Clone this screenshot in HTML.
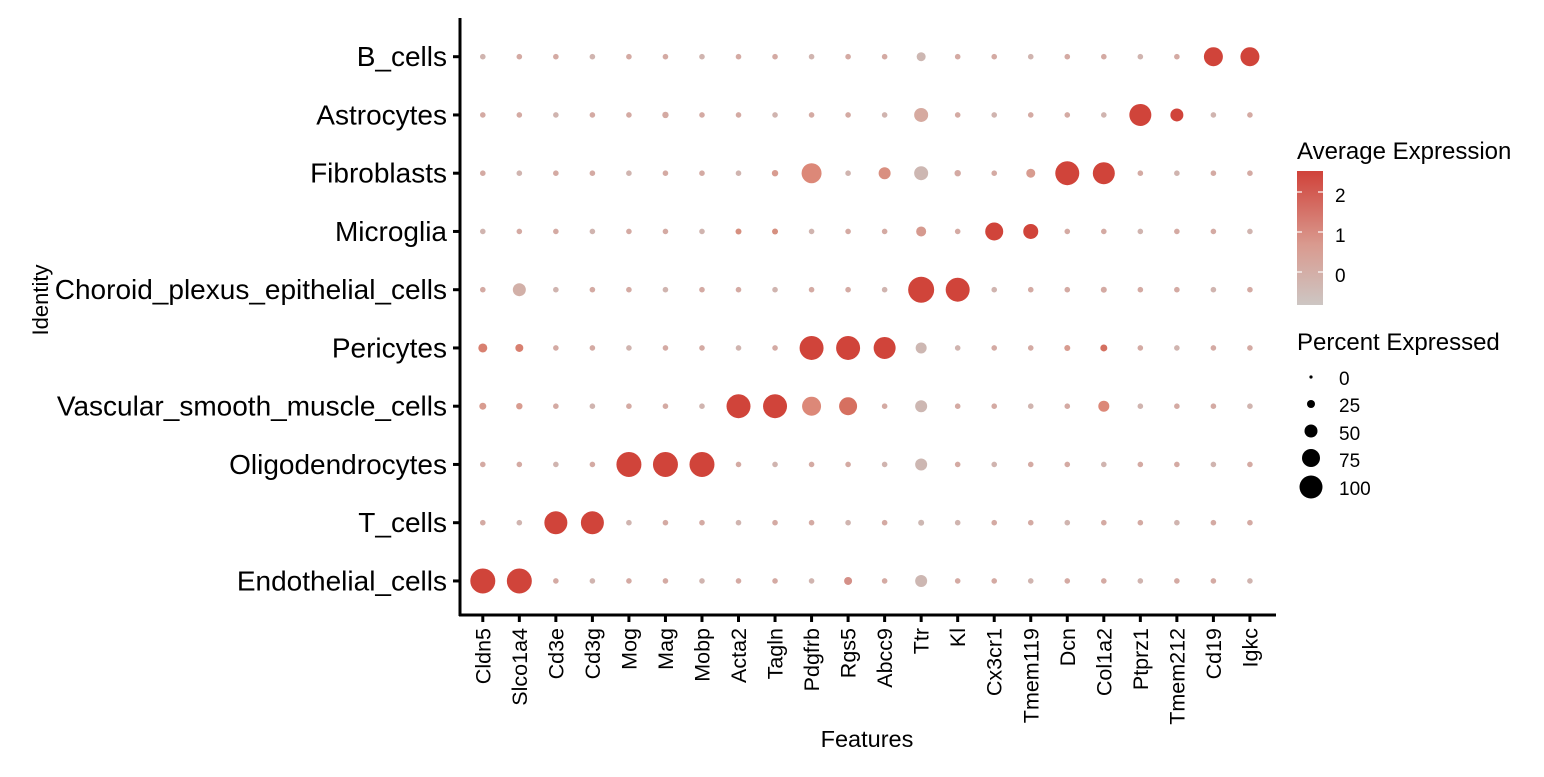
<!DOCTYPE html>
<html><head><meta charset="utf-8"><style>
body{margin:0;background:#fff;}
svg text{font-family:"Liberation Sans",Arial,sans-serif;fill:#000;}
</style></head><body>
<svg id="s" width="1544" height="772" viewBox="0 0 1544 772" xmlns="http://www.w3.org/2000/svg">
<defs><linearGradient id="g" x1="0" y1="1" x2="0" y2="0">
<stop offset="0" stop-color="#cdc6c3"/><stop offset="0.45" stop-color="#d99a8f"/><stop offset="1" stop-color="#d0423a"/></linearGradient></defs>
<g id="dots"></g>
<line x1="460" y1="18" x2="460" y2="616" stroke="#000" stroke-width="3"/>
<line x1="459" y1="615" x2="1276" y2="615" stroke="#000" stroke-width="3"/>
<g id="lab"></g>
<text x="867" y="747" font-size="23.5" text-anchor="middle">Features</text>
<text transform="translate(48,300) rotate(-90)" font-size="22" text-anchor="middle">Identity</text>
<text x="1297" y="159" font-size="24">Average Expression</text>
<rect x="1297" y="171" width="26" height="134" fill="url(#g)"/>
<g stroke="#fff" stroke-width="1.2">
<line x1="1297" y1="192" x2="1302" y2="192"/><line x1="1318" y1="192" x2="1323" y2="192"/>
<line x1="1297" y1="232" x2="1302" y2="232"/><line x1="1318" y1="232" x2="1323" y2="232"/>
<line x1="1297" y1="272" x2="1302" y2="272"/><line x1="1318" y1="272" x2="1323" y2="272"/>
</g>
<text x="1335" y="202" font-size="19">2</text>
<text x="1335" y="242" font-size="19">1</text>
<text x="1335" y="282" font-size="19">0</text>
<text x="1297" y="350" font-size="24">Percent Expressed</text>
<circle cx="1311" cy="377" r="1.6" fill="#000"/>
<circle cx="1311" cy="404" r="4" fill="#000"/>
<circle cx="1311" cy="431" r="6.5" fill="#000"/>
<circle cx="1311" cy="458" r="9" fill="#000"/>
<circle cx="1311" cy="487" r="11.5" fill="#000"/>
<text x="1339" y="385" font-size="19">0</text>
<text x="1339" y="412" font-size="19">25</text>
<text x="1339" y="440" font-size="19">50</text>
<text x="1339" y="467" font-size="19">75</text>
<text x="1339" y="495" font-size="19">100</text>
</svg>
<script>
var cols=["Cldn5","Slco1a4","Cd3e","Cd3g","Mog","Mag","Mobp","Acta2","Tagln","Pdgfrb","Rgs5","Abcc9","Ttr","Kl","Cx3cr1","Tmem119","Dcn","Col1a2","Ptprz1","Tmem212","Cd19","Igkc"];
var rows=["B_cells","Astrocytes","Fibroblasts","Microglia","Choroid_plexus_epithelial_cells","Pericytes","Vascular_smooth_muscle_cells","Oligodendrocytes","T_cells","Endothelial_cells"];
var R="#d0443a",L="#dc8878",G="#cdb7b2",T="#d4aaa3";
var sp={
"0,12":[4.5,G],"0,20":[9.5,R],"0,21":[9.5,R],
"1,5":[3.2,T],"1,12":[7,"#d6aaa0"],"1,18":[11,R],"1,19":[6.5,R],
"2,9":[10,L],"2,11":[6,"#d98f80"],"2,12":[7,G],"2,15":[4.5,"#d89c90"],"2,16":[12,R],"2,17":[11,R],"2,8":[3.2,"#d89c90"],"2,13":[3.2,T],
"3,12":[5,"#d69a8f"],"3,14":[9,R],"3,15":[7.5,R],"3,7":[3,"#d69080"],"3,8":[3,"#d69080"],
"4,1":[6.5,"#d2b0a8"],"4,12":[13,R],"4,13":[12,R],"4,17":[3,T],
"5,0":[4.5,"#d88070"],"5,1":[4,"#d88070"],"5,9":[12,R],"5,10":[12,R],"5,11":[11,R],"5,12":[5.5,G],"5,16":[3,"#d89c90"],"5,17":[3.5,"#d47060"],
"6,0":[3.5,"#d89c90"],"6,1":[3.2,"#d89c90"],"6,7":[12,R],"6,8":[12,R],"6,9":[9.5,L],"6,10":[9,"#d67060"],"6,12":[6,G],"6,17":[5.5,L],
"7,4":[12.5,R],"7,5":[12.5,R],"7,6":[12.5,R],"7,12":[6,G],
"8,2":[11.5,R],"8,3":[11.5,R],"8,12":[3,G],
"9,0":[12.5,R],"9,1":[12.5,R],"9,10":[4,"#d49088"],"9,12":[6,G]};
var ns="http://www.w3.org/2000/svg",d=document.getElementById("dots"),lb=document.getElementById("lab");
function el(n,a,p){var e=document.createElementNS(ns,n);for(var k in a)e.setAttribute(k,a[k]);p.appendChild(e);return e;}
rows.forEach(function(r,i){var y=56.7+i*58.25;
 var t=el("text",{x:447,y:y+9.5,"font-size":28,"text-anchor":"end"},lb);t.textContent=r;
 el("line",{x1:453,y1:y,x2:460,y2:y,stroke:"#000","stroke-width":3},lb);
 cols.forEach(function(c,j){var x=482.8+j*36.53;var v=sp[i+","+j]||[2.8,((i+j)%3==0)?"#d0b4af":T];
  el("circle",{cx:x,cy:y,r:v[0],fill:v[1]},d);});});
cols.forEach(function(c,j){var x=482.8+j*36.53;
 el("line",{x1:x,y1:615,x2:x,y2:622,stroke:"#000","stroke-width":3},lb);
 var t=el("text",{transform:"translate("+(x+7.5)+",628) rotate(-90)","font-size":21.5,"text-anchor":"end"},lb);t.textContent=c;});
</script>
</body></html>
